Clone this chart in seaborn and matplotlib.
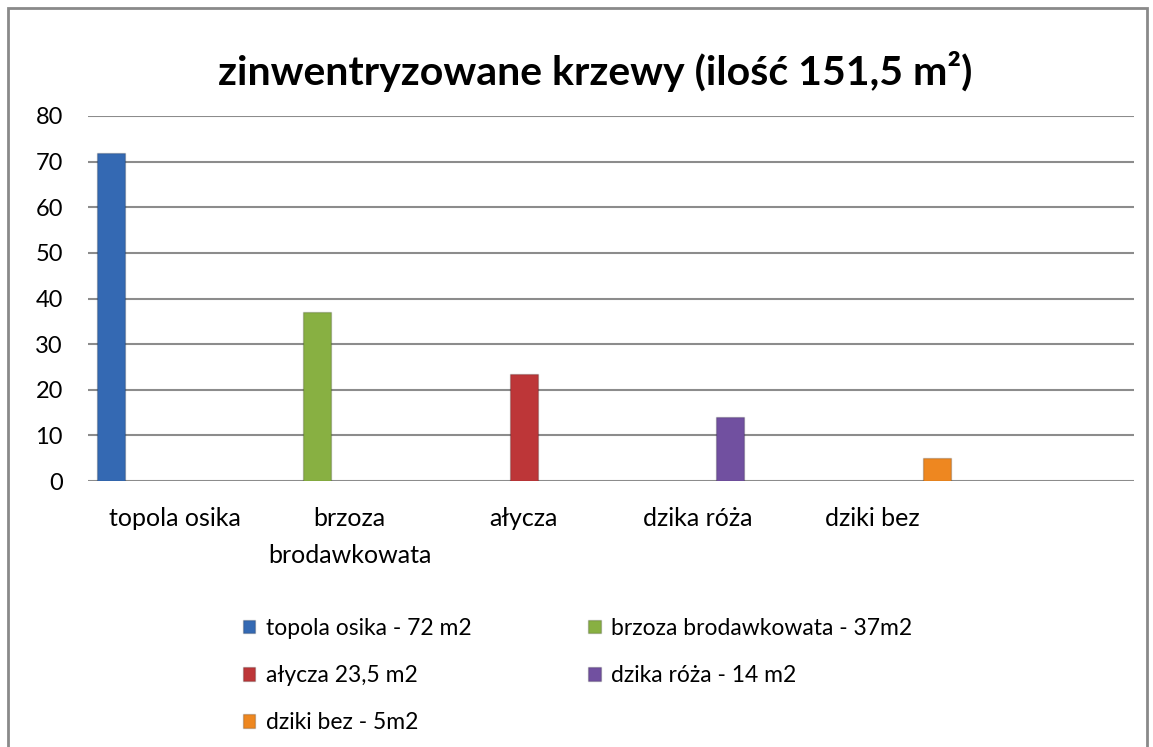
import pandas as pd
import matplotlib
matplotlib.use('Agg')
import matplotlib.pyplot as plt
from matplotlib.patches import Rectangle
import seaborn as sns

# data
categories = ['topola osika', 'brzoza\nbrodawkowata', 'ałycza', 'dzika róża', 'dziki bez']
series = ['topola osika - 72 m2', 'brzoza brodawkowata - 37m2', 'ałycza 23,5 m2',
          'dzika róża - 14 m2', 'dziki bez - 5m2']
values = [72, 37, 23.5, 14, 5]
colors = ['#3469b3', '#88b042', '#bd3638', '#7150a0', '#ee8720']
yticks = [0, 10, 20, 30, 40, 50, 60, 70, 80]

df = pd.DataFrame({'kategoria': categories, 'seria': series, 'wartosc': values})

sns.set_theme(style='white')
plt.rcParams['font.family'] = ['Lato', 'DejaVu Sans']

fig = plt.figure(figsize=(11.53, 7.47), dpi=100)
ax = fig.add_axes([88/1153, 1-481/747, (1134-88)/1153, (481-116)/747])

sns.barplot(data=df, x='kategoria', y='wartosc', hue='seria', order=categories,
            hue_order=series, palette=colors, width=0.925, gap=0.135,
            dodge=True, saturation=1, ax=ax, legend=True,
            edgecolor='#00000030', linewidth=1)

ax.set_xlim(-0.5, 5.5)
ax.set_ylim(0, 80)
ax.set_yticks(yticks)
ax.set_xlabel('')
ax.set_ylabel('')
for s in ax.spines.values():
    s.set_visible(False)
ax.yaxis.grid(True, color='#8c8c8c', lw=1.5)
ax.set_axisbelow(True)
ax.tick_params(axis='both', length=0, colors='black')
ax.tick_params(axis='x', pad=19, labelsize=18)
ax.tick_params(axis='y', pad=18, labelsize=17)
for lab in ax.get_xticklabels():
    lab.set_linespacing(1.7)

handles, labels = ax.get_legend_handles_labels()
ax.get_legend().remove()
idx = [0, 2, 4, 1, 3]
fig.legend([handles[i] for i in idx], [labels[i] for i in idx], ncol=2,
           loc='upper left', bbox_to_anchor=(222/1153, 1-597/747), frameon=False,
           fontsize=16.5, labelcolor='black', handlelength=0.55, handleheight=0.55,
           handletextpad=0.45, labelspacing=1.15, columnspacing=5.1)

fig.text(595/1153, 1-72/747, 'zinwentryzowane krzewy (ilość 151,5 m²)', ha='center',
         va='center', fontsize=29.5, fontweight='bold', color='black')

fig.add_artist(Rectangle((8/1153, -0.02), (1147-8)/1153, (747-8)/747 + 0.02,
                         transform=fig.transFigure, fill=False,
                         edgecolor='#8a8a8a', lw=2))

fig.savefig('out.png', dpi=100, facecolor='white')
